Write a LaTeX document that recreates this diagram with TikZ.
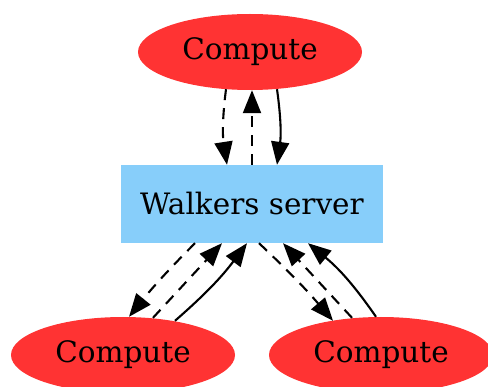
\documentclass[tikz,border=0pt]{standalone}
\usepackage{fontspec}
\setmainfont{DejaVu Serif}
\usetikzlibrary{shapes.geometric,arrows.meta,calc}
\definecolor{cred}{RGB}{255,51,51}
\definecolor{cblue}{RGB}{135,206,250}
\newcommand{\lowered}[1]{\raisebox{-2.5pt}{#1}}
\tikzset{
  compute/.style={ellipse,fill=cred,minimum width=224pt,minimum height=76pt,inner sep=0pt,font=\fontsize{29.5}{34}\selectfont},
  server/.style={rectangle,fill=cblue,minimum width=262pt,minimum height=78pt,inner sep=0pt,font=\fontsize{29.5}{34}\selectfont},
  conn/.style={line width=2.1pt,-{Triangle[length=23pt,width=18pt]}},
  dconn/.style={conn,dash pattern=on 11pt off 8pt}
}
\begin{document}
\begin{tikzpicture}[x=1pt,y=-1pt]
\useasboundingbox (0,0) rectangle (488,387);
\node[compute] (T) at (250,52) {\lowered{Compute}};
\node[server] (S) at (252,204) {\lowered{Walkers server}};
\node[compute] (L) at (123,355) {\lowered{Compute}};
\node[compute] (R) at (381,355) {\lowered{Compute}};
% top
\draw[dconn] ($(T.south)+(-24,-1)$) to[bend right=8] ($(S.north)+(-25,0)$);
\draw[dconn] (S.north) -- ($(T.south)+(2,0)$);
\draw[conn] ($(T.south)+(27,-1)$) to[bend left=8] ($(S.north)+(25,0)$);
% left
\draw[dconn] ($(S.south)+(-57,0)$) to[bend right=3] ($(L.north)+(6,0)$);
\draw[dconn] ($(L.north)+(30,1)$) -- ($(S.south)+(-30,0)$);
\draw[conn] ($(L.north)+(52,4)$) to[bend right=6] ($(S.south)+(-5,0)$);
% right
\draw[dconn] ($(S.south)+(7,0)$) to[bend left=3] ($(R.north)+(-48,4)$);
\draw[dconn] ($(R.north)+(-29,1)$) -- ($(S.south)+(31,0)$);
\draw[conn] ($(R.north)+(-5,0)$) to[bend right=8] ($(S.south)+(56,0)$);
\end{tikzpicture}
\end{document}
